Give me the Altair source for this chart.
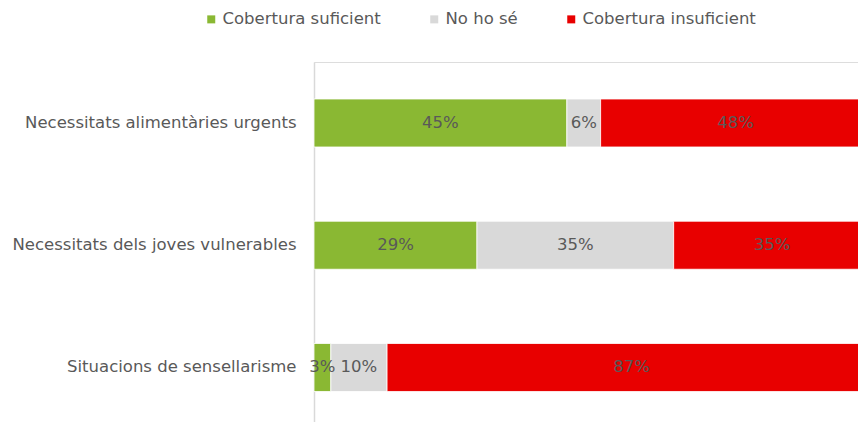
import altair as alt
import pandas as pd

categories = ["Necessitats alimentàries urgents", "Necessitats dels joves vulnerables", "Situacions de sensellarisme"]
series = ["Cobertura suficient", "No ho sé", "Cobertura insuficient"]
suficient = [45, 29, 3]
no_ho_se = [6, 35, 10]
insuficient = [48, 35, 87]
colors = ["#8AB833", "#D9D9D9", "#E80000"]

rows = []
for i, c in enumerate(categories):
    for j, (s, vals) in enumerate(zip(series, [suficient, no_ho_se, insuficient])):
        rows.append({"cat": c, "serie": s, "ord": j, "value": vals[i], "label": f"{vals[i]}%"})
df = pd.DataFrame(rows)

FONT = "DejaVu Sans"
TXT = "#595959"
FS = 16.5

base = alt.Chart(df).transform_stack(
    stack="value", as_=["x0", "x1"], groupby=["cat"], sort=[alt.SortField("ord")]
).transform_calculate(mid="(datum.x0 + datum.x1) / 2")

y = alt.Y("cat:N", sort=categories, title=None,
          scale=alt.Scale(paddingInner=0.6074, paddingOuter=0.2761, align=0.548),
          axis=alt.Axis(labelFont=FONT, labelFontSize=FS, labelColor=TXT, labelPadding=18,
                        ticks=False, domainColor="#D9D9D9", domainWidth=1.5, labelLimit=400))
xs = alt.Scale(domain=[0, 96.8], nice=False, zero=True)

bars = base.mark_bar(stroke="white", strokeWidth=0.8).encode(
    x=alt.X("x0:Q", scale=xs, axis=None),
    x2="x1:Q",
    y=y,
    color=alt.Color("serie:N", sort=series, scale=alt.Scale(domain=series, range=colors),
                    legend=alt.Legend(title=None, orient="none", legendX=-111, legendY=-51,
                                      direction="horizontal", symbolType="square", symbolSize=64,
                                      symbolStrokeWidth=0, labelFont=FONT, labelFontSize=FS,
                                      labelColor=TXT, columnPadding=45, labelOffset=3,
                                      labelLimit=400)),
)

text = base.mark_text(font=FONT, fontSize=FS, color=TXT).encode(
    x=alt.X("mid:Q", scale=xs, axis=None),
    y=alt.Y("cat:N", sort=categories),
    text="label:N",
)

chart = alt.layer(bars, text).properties(
    width=544, height=360,
    autosize=alt.AutoSizeParams(type="none"),
    padding={"left": 306, "top": 54, "right": 0, "bottom": 0},
).configure_view(strokeWidth=0).configure(background="white")

chart.save("out.html", embed_options={"renderer": "svg", "actions": False})
